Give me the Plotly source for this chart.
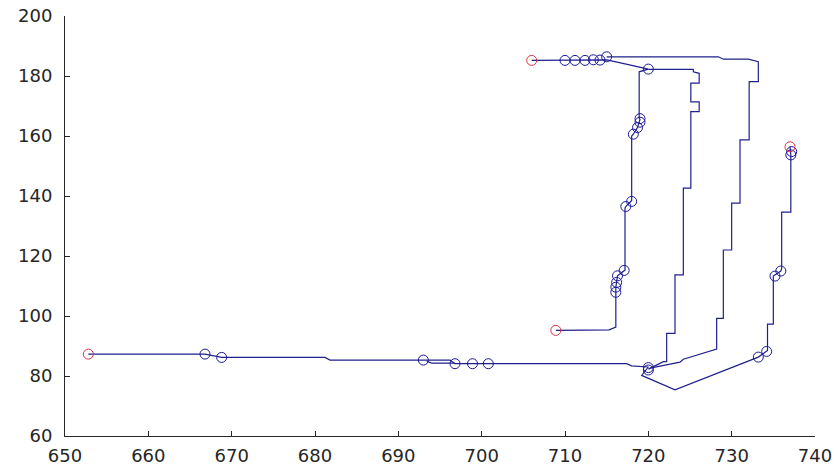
import plotly.graph_objects as go

# Track 1: long westward run, dip below 80, then up the far-right column
track1_x = [652.8, 666.8, 668.8, 681.2, 681.8, 693.0, 696.2, 696.8, 698.9, 700.8,
            717.4, 718.0, 720.0, 719.2, 723.2, 733.2, 734.2, 734.3, 734.3, 735.0,
            735.0, 735.9, 736.0, 736.0, 737.1, 737.1, 737.0]
track1_y = [87.3, 87.3, 86.2, 86.2, 85.3, 85.3, 85.3, 84.1, 84.1, 84.1,
            84.1, 83.4, 83.0, 80.2, 75.4, 86.3, 88.2, 88.5, 97.3, 97.3,
            113.3, 115.0, 115.8, 134.6, 134.6, 153.7, 156.4]

# Short parallel piece next to the 693-697 stretch
track1b_x = [693.4, 694.0, 696.8]
track1b_y = [84.9, 84.3, 84.3]

# Track 2: top start, across to 720, down the inner column to the lower-left end
track2_x = [706.0, 710.0, 711.2, 712.4, 713.4, 714.2, 715.0, 716.8, 719.6, 720.0,
            718.9, 718.9, 719.0, 718.7, 718.2, 718.0, 718.0, 717.8, 717.3, 717.2,
            717.2, 716.3, 716.2, 716.1, 716.1, 715.3, 708.9]
track2_y = [185.2, 185.2, 185.2, 185.2, 185.3, 185.2, 185.4, 184.3, 182.6, 182.3,
            181.4, 166.0, 165.5, 162.8, 160.6, 160.0, 138.5, 138.0, 136.5, 136.0,
            115.3, 113.4, 111.2, 109.6, 96.3, 95.4, 95.2]

# Track 3: outer loop along the top and down the stepped right column
track3_x = [715.0, 728.4, 729.0, 732.0, 733.2, 733.2, 732.1, 732.1, 731.0, 731.0,
            730.0, 730.0, 729.0, 729.0, 728.2, 728.2, 724.2, 723.8, 720.2]
track3_y = [186.4, 186.4, 185.6, 185.6, 184.8, 178.1, 178.1, 158.7, 158.7, 137.6,
            137.6, 122.0, 122.0, 99.2, 99.2, 89.0, 85.6, 84.6, 82.6]

# Track 4: inner stepped column from the 720/82 node back up to 720/182
track4_x = [720.0, 721.8, 722.2, 722.2, 723.2, 723.2, 724.2, 724.2, 725.1, 725.1,
            726.1, 726.1, 725.1, 725.1, 726.1, 726.1, 725.4, 725.4, 720.0]
track4_y = [82.3, 84.8, 84.8, 94.2, 94.2, 113.7, 113.7, 142.6, 142.6, 168.1,
            168.1, 171.4, 171.4, 177.6, 177.6, 180.9, 181.4, 182.2, 182.2]

# Waypoints
way_x = [666.8, 668.8, 693.0, 696.8, 698.9, 700.8, 720.0, 720.0, 733.2, 734.2,
         735.2, 735.9, 737.1, 737.2, 710.0, 711.2, 712.4, 713.4, 714.2, 715.0,
         720.0, 719.0, 719.0, 718.7, 718.2, 718.0, 717.3, 717.1, 716.3, 716.2,
         716.1, 716.1]
way_y = [87.3, 86.2, 85.3, 84.1, 84.1, 84.1, 82.8, 82.0, 86.3, 88.2,
         113.3, 115.0, 153.7, 154.8, 185.2, 185.2, 185.2, 185.4, 185.3, 186.4,
         182.3, 165.8, 164.6, 162.8, 160.6, 138.2, 136.5, 115.2, 113.4, 111.2,
         109.6, 107.9]

# Track end points
end_x = [652.8, 706.0, 708.9, 737.0]
end_y = [87.3, 185.2, 95.2, 156.4]

x_ticks = [650, 660, 670, 680, 690, 700, 710, 720, 730, 740]
y_ticks = [60, 80, 100, 120, 140, 160, 180, 200]

LINE = "#20208c"
WAY = "#1a1a9c"
END = "#d8354c"
AX = "#262626"

fig = go.Figure()
for xs, ys in [(track1_x, track1_y), (track1b_x, track1b_y), (track2_x, track2_y),
               (track3_x, track3_y), (track4_x, track4_y)]:
    fig.add_trace(go.Scatter(x=xs, y=ys, mode="lines",
                             line=dict(color=LINE, width=1.2),
                             hoverinfo="skip", showlegend=False))

fig.add_trace(go.Scatter(x=way_x, y=way_y, mode="markers",
                         marker=dict(symbol="circle-open", size=10,
                                     color=WAY, line=dict(width=1, color=WAY)),
                         showlegend=False))
fig.add_trace(go.Scatter(x=end_x, y=end_y, mode="markers",
                         marker=dict(symbol="circle-open", size=10,
                                     color=END, line=dict(width=1, color=END)),
                         showlegend=False))

axis_common = dict(showgrid=False, zeroline=False, showline=True,
                   linecolor=AX, linewidth=1, ticks="inside", ticklen=5,
                   tickcolor=AX, tickwidth=1, mirror=False, automargin=False,
                   tickfont=dict(family="DejaVu Sans", size=18, color=AX))

fig.update_layout(
    width=838, height=465,
    margin=dict(l=65, r=23, t=16, b=29),
    paper_bgcolor="white", plot_bgcolor="white",
    xaxis=dict(range=[650, 740], tickvals=x_ticks, ticklabelstandoff=3, **axis_common),
    yaxis=dict(range=[60, 200], tickvals=y_ticks, ticklabelstandoff=8, **axis_common),
)

fig.write_html("out.html")
